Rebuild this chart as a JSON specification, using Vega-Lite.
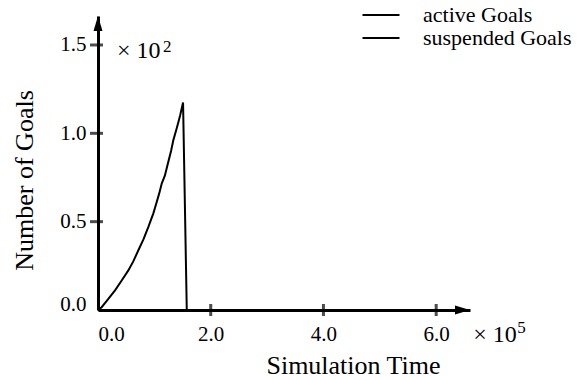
{
  "$schema": "https://vega.github.io/schema/vega-lite/v6.json",
  "width": 372,
  "height": 294,
  "autosize": "none",
  "padding": {"left": 98, "top": 16, "right": 118, "bottom": 70},
  "background": "white",
  "config": {
    "view": {"stroke": null},
    "font": "Liberation Serif",
    "axis": {"labelFont": "Liberation Serif", "titleFont": "Liberation Serif", "labelColor": "black", "titleColor": "black", "domainColor": "black", "grid": false},
    "legend": {"labelFont": "Liberation Serif", "labelColor": "black"},
    "text": {"font": "Liberation Serif", "color": "black"}
  },
  "datasets": {
    "goals": [
      {"series": "active Goals", "time": 0, "goals": 0},
      {"series": "active Goals", "time": 6500, "goals": 1.6},
      {"series": "active Goals", "time": 17600, "goals": 6},
      {"series": "active Goals", "time": 30200, "goals": 11.1},
      {"series": "active Goals", "time": 42600, "goals": 17},
      {"series": "active Goals", "time": 53800, "goals": 22.4},
      {"series": "active Goals", "time": 62600, "goals": 27.5},
      {"series": "active Goals", "time": 71600, "goals": 33.8},
      {"series": "active Goals", "time": 80600, "goals": 40},
      {"series": "active Goals", "time": 89400, "goals": 47},
      {"series": "active Goals", "time": 98200, "goals": 54.7},
      {"series": "active Goals", "time": 104300, "goals": 61.3},
      {"series": "active Goals", "time": 108600, "goals": 66},
      {"series": "active Goals", "time": 113200, "goals": 71.7},
      {"series": "active Goals", "time": 118600, "goals": 76},
      {"series": "active Goals", "time": 124900, "goals": 84},
      {"series": "active Goals", "time": 129600, "goals": 90},
      {"series": "active Goals", "time": 133800, "goals": 96.3},
      {"series": "active Goals", "time": 139800, "goals": 103},
      {"series": "active Goals", "time": 145600, "goals": 110},
      {"series": "active Goals", "time": 150900, "goals": 117.4},
      {"series": "active Goals", "time": 157500, "goals": 0},
      {"series": "suspended Goals", "time": 0, "goals": 0},
      {"series": "suspended Goals", "time": 157500, "goals": 0}
    ],
    "yticks": [{"goals": 50}, {"goals": 100}, {"goals": 150}],
    "xticks": [{"time": 200000}, {"time": 400000}, {"time": 600000}],
    "one": [{"k": 1}]
  },
  "layer": [
    {
      "data": {"name": "goals"},
      "mark": {"type": "line", "strokeWidth": 2},
      "encoding": {
        "x": {
          "field": "time", "type": "quantitative",
          "scale": {"domain": [0, 660000], "nice": false, "zero": false},
          "axis": {
            "title": "Simulation Time", "titleFontSize": 26, "titleFontWeight": "normal", "titleFont": "Liberation Serif",
            "titleX": 255, "titleY": 63, "titleBaseline": "alphabetic", "titleAlign": "center",
            "values": [0, 200000, 400000, 600000],
            "labelExpr": "format(datum.value/100000, '.1f')",
            "labelFont": "Liberation Serif", "labelFontSize": 21, "labelPadding": 13, "labelFlush": false,
            "labelAlign": {"condition": {"test": "datum.value == 0", "value": "left"}, "value": "center"},
            "ticks": false, "tickSize": 0, "domainWidth": 3
          }
        },
        "y": {
          "field": "goals", "type": "quantitative",
          "scale": {"domain": [0, 166.4], "nice": false, "zero": false},
          "axis": {
            "title": "Number of Goals", "titleFontSize": 26, "titleFontWeight": "normal", "titleFont": "Liberation Serif",
            "titleX": -66, "titleY": 164, "titleBaseline": "alphabetic", "titleAlign": "center", "titleAngle": 270,
            "values": [0, 50, 100, 150],
            "labelExpr": "format(datum.value/100, '.1f')",
            "labelFont": "Liberation Serif", "labelFontSize": 21, "labelPadding": 12, "labelFlush": false,
            "labelBaseline": {"condition": {"test": "datum.value == 0", "value": "alphabetic"}, "value": "middle"},
            "ticks": false, "tickSize": 0, "domainWidth": 3
          }
        },
        "color": {
          "field": "series", "type": "nominal",
          "scale": {"domain": ["active Goals", "suspended Goals"], "range": ["black", "black"]},
          "legend": {
            "orient": "none", "legendX": 272, "legendY": -12, "title": null,
            "symbolType": "M-3,0L3,0", "symbolSize": 152, "symbolStrokeWidth": 2, "symbolStrokeColor": "black",
            "labelFont": "Liberation Serif", "labelFontSize": 22, "labelOffset": 31, "rowPadding": 1, "padding": 0
          }
        }
      }
    },
    {
      "data": {"name": "yticks"},
      "mark": {"type": "tick", "orient": "horizontal", "size": 13, "thickness": 3, "color": "black", "xOffset": -1.5},
      "encoding": {
        "x": {"datum": 0, "type": "quantitative", "scale": {"domain": [0, 660000], "nice": false, "zero": false}},
        "y": {"field": "goals", "type": "quantitative", "scale": {"domain": [0, 166.4], "nice": false, "zero": false}}
      }
    },
    {
      "data": {"name": "xticks"},
      "mark": {"type": "tick", "orient": "vertical", "size": 12, "thickness": 3, "color": "black"},
      "encoding": {
        "x": {"field": "time", "type": "quantitative", "scale": {"domain": [0, 660000], "nice": false, "zero": false}},
        "y": {"datum": 0, "type": "quantitative", "scale": {"domain": [0, 166.4], "nice": false, "zero": false}}
      }
    },
    {
      "data": {"name": "one"},
      "mark": {"type": "point", "shape": "M0,0 L-0.3,1 L0.3,1 Z", "size": 900, "filled": true, "color": "black", "opacity": 1},
      "encoding": {
        "x": {"datum": 0, "type": "quantitative"},
        "y": {"datum": 166.4, "type": "quantitative"}
      }
    },
    {
      "data": {"name": "one"},
      "mark": {"type": "point", "shape": "M0,0 L-1,-0.3 L-1,0.3 Z", "size": 900, "filled": true, "color": "black", "opacity": 1},
      "encoding": {
        "x": {"datum": 660000, "type": "quantitative"},
        "y": {"datum": 0, "type": "quantitative"}
      }
    },
    {
      "data": {"name": "one"},
      "mark": {"type": "text", "text": "× 10", "font": "Liberation Serif", "fontSize": 24, "align": "left", "baseline": "alphabetic"},
      "encoding": {
        "x": {"datum": 33700, "type": "quantitative"},
        "y": {"datum": 142.6, "type": "quantitative"}
      }
    },
    {
      "data": {"name": "one"},
      "mark": {"type": "text", "text": "2", "font": "Liberation Serif", "fontSize": 17, "align": "left", "baseline": "alphabetic"},
      "encoding": {
        "x": {"datum": 115400, "type": "quantitative"},
        "y": {"datum": 146, "type": "quantitative"}
      }
    },
    {
      "data": {"name": "one"},
      "mark": {"type": "text", "text": "× 10", "font": "Liberation Serif", "fontSize": 24, "align": "left", "baseline": "alphabetic"},
      "encoding": {
        "x": {"datum": 665700, "type": "quantitative"},
        "y": {"datum": -18.1, "type": "quantitative"}
      }
    },
    {
      "data": {"name": "one"},
      "mark": {"type": "text", "text": "5", "font": "Liberation Serif", "fontSize": 17, "align": "left", "baseline": "alphabetic"},
      "encoding": {
        "x": {"datum": 743800, "type": "quantitative"},
        "y": {"datum": -13.0, "type": "quantitative"}
      }
    }
  ]
}
